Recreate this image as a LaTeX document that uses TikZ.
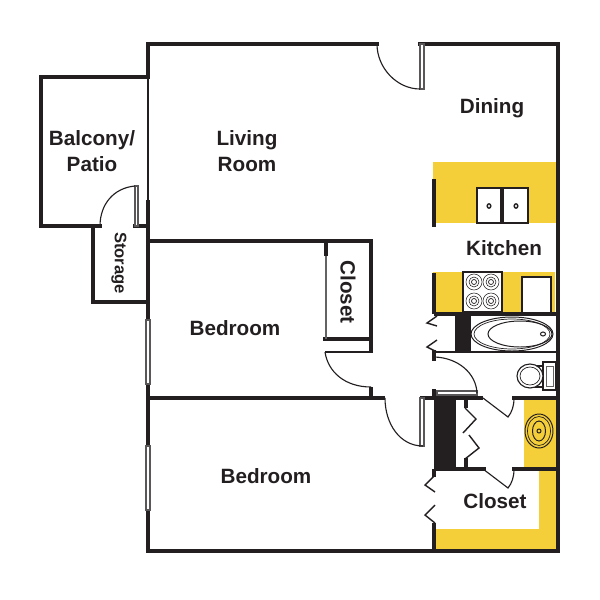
\documentclass[tikz,border=0pt]{standalone}
\usepackage{fontspec}
\setmainfont{Liberation Sans}
\definecolor{wallcol}{HTML}{231F20}
\definecolor{tile}{HTML}{F5CF3A}
\tikzset{
  wall/.style={draw=wallcol, line width=2.9pt},
  thinline/.style={draw=wallcol, line width=0.8pt},
  pane/.style={draw=wallcol!75, fill=white, line width=0.8pt},
  room/.style={text=wallcol, font=\fontsize{14.7}{17}\selectfont\bfseries, align=center},
  smallroom/.style={text=wallcol, font=\fontsize{11.8}{14}\selectfont\bfseries, rotate=-90}
}
\begin{document}
\begin{tikzpicture} [x=0.025cm, y=-0.025cm]
\useasboundingbox (0,0) rectangle (600,600);
% tiled areas
\fill [tile] (433,162) rectangle (556,223);
\fill [tile] (433,272) rectangle (555,314);
\fill [tile] (524,398) rectangle (558,469);
\fill [tile] (539,469) rectangle (558,551);
\fill [tile] (434,529) rectangle (558,551);
% outer walls
\draw [wall, line cap=rect] (377,44) -- (148,44) -- (148,77);
\draw [wall, line cap=rect] (420,44) -- (558,44) -- (558,551) -- (148,551) -- (148,510);
\draw [wall] (148,446) -- (148,200);
\draw [wall, line cap=rect] (148,77) -- (41,77) -- (41,226) -- (100,226);
\draw [wall, line cap=rect] (135,226) -- (148,226);
\draw [wall, line cap=rect] (93,226) -- (93,302) -- (148,302);
\draw [thinline] (148,77) -- (148,200);
% windows
\foreach \y in {320,446}
\draw [pane] (146,\y) rectangle (150,\y+64);
% inner walls
\draw [wall] (148,241) -- (371,241) -- (371,353);
\draw [wall] (323,339) -- (371,339);
\draw [wall] (326,241) -- (326,256);
\draw [draw=wallcol!70, line width=1pt] (326,256) -- (326,339);
\draw [thinline] (325,352) -- (371,352);
\draw [wall] (148,398) -- (385,398);
\draw [wall] (371,387) -- (371,398);
\draw [wall] (420,398) -- (483,398);
\draw [wall] (512,398) -- (558,398);
\draw [wall] (434,469) -- (486,469);
\draw [wall] (512,469) -- (558,469);
\draw [wall] (434,314) -- (558,314);
\draw [wall] (434,179) -- (434,227);
\draw [wall] (434,273) -- (434,314);
\draw [wall] (434,350) -- (434,361);
\draw [wall] (434,389) -- (434,398);
\draw [wall] (434,469) -- (434,477);
\draw [wall] (434,523) -- (434,551);
\draw [wall] (466,398) -- (466,408);
\draw [wall] (466,458) -- (466,469);
\draw [draw=wallcol, line width=1.4pt] (434,352) -- (471,352);
\draw [thinline] (471,352) -- (558,352);
% solid blocks
\fill [wallcol] (434,398) rectangle (456,469);
\fill [wallcol] (455,314) rectangle (471,353);
% door leaves and swings
\draw [pane] (420,44) rectangle (424,89);
\draw [thinline] (377,44) .. controls (377,68) and (397,89) .. (420,89);
\draw [pane] (135,186) rectangle (138,226);
\draw [thinline] (135,186) .. controls (113,188) and (100,205) .. (100,226);
\draw [thinline] (325,352) .. controls (328,372) and (345,387) .. (371,387);
\draw [pane] (420,398) rectangle (424,446);
\draw [thinline] (385,398) .. controls (385,424) and (400,446) .. (423,446);
\draw [pane] (437,391) rectangle (477,395);
\draw [thinline] (435,357) .. controls (458,358) and (476,373) .. (477,393);
\foreach \y in {398,469} {
\draw [thinline] (483,\y) -- (508,\y+19) .. controls (512,\y+14) and (514,\y+8) .. (514,\y);
}
% folding doors
\draw [thinline, line width=1pt] (437,316) -- (427,323) -- (437,326);
\draw [thinline, line width=1pt] (437,340) -- (427,347) -- (437,352);
\draw [thinline, line width=1pt] (434,476) -- (425,485) -- (435,492);
\draw [thinline, line width=1pt] (435,505) -- (425,515) -- (435,523);
\draw [thinline, line width=1pt] (465,408) -- (476,419) -- (463,433);
\draw [thinline, line width=1pt] (469,435) -- (479,448) -- (465,459);
% kitchen fixtures
\draw [thinline, fill=white] (477,188) rectangle (501,223);
\draw [thinline, fill=white] (503,188) rectangle (528,223);
\foreach \x in {489,516}
\draw [wallcol, line width=1pt] (\x,206) ellipse (1.8 and 2.2);
\draw [thinline, fill=white] (463,272) rectangle (502,312);
\foreach \x in {474,491}
\foreach \y in {282,301} {
\draw [wallcol, line width=0.4pt] (\x,\y) circle (8);
\draw [wallcol, line width=0.4pt] (\x,\y) circle (5);
\draw [wallcol, line width=0.5pt] (\x,\y) circle (2.5);
}
\draw [thinline, fill=white] (522,277) rectangle (551,313);
% tub
\draw [wallcol, line width=0.7pt] (512,334) ellipse (41 and 17);
\draw [wallcol, line width=0.5pt] (512,334) ellipse (38 and 15);
\draw [wallcol, line width=0.7pt] (520,334) ellipse (32 and 13);
\draw [wallcol, line width=0.7pt] (543,334) ellipse (2.5 and 2);
% toilet
\draw [thinline, fill=white] (543,362) rectangle (556,390);
\draw [wallcol!70, line width=0.7pt] (546,366) rectangle (553,386);
\draw [thinline] (542,366) -- (532,366);
\draw [thinline] (542,387) -- (532,387);
\draw [thinline, fill=white] (530,376) ellipse (13 and 12);
\draw [wallcol, line width=0.5pt] (530,376) ellipse (10 and 9);
% vanity
\draw [wallcol, line width=0.7pt] (539,431) ellipse (14 and 17);
\draw [wallcol, line width=0.5pt] (539,431) ellipse (11.5 and 14.5);
\draw [wallcol, line width=0.7pt] (539,431) ellipse (6.5 and 10);
\draw [wallcol, line width=0.7pt] (539,431) circle (2);
% labels
\node (balcony) [room] at (92,151) {Balcony/\\[1pt]Patio};
\node (living) [room] at (247,151) {Living\\[1pt]Room};
\node (dining) [room] at (492,108) {Dining};
\node (kitchen) [room] at (504,248) {Kitchen};
\node (bedroomA) [room] at (235,328) {Bedroom};
\node (bedroomB) [room] at (266,476) {Bedroom};
\node (closetA) [room, rotate=-90] at (348,292) {Closet};
\node (closetB) [room] at (495,501) {Closet};
\node (storage) [smallroom] at (119,263) {Storage};
\end{tikzpicture}
\end{document}
